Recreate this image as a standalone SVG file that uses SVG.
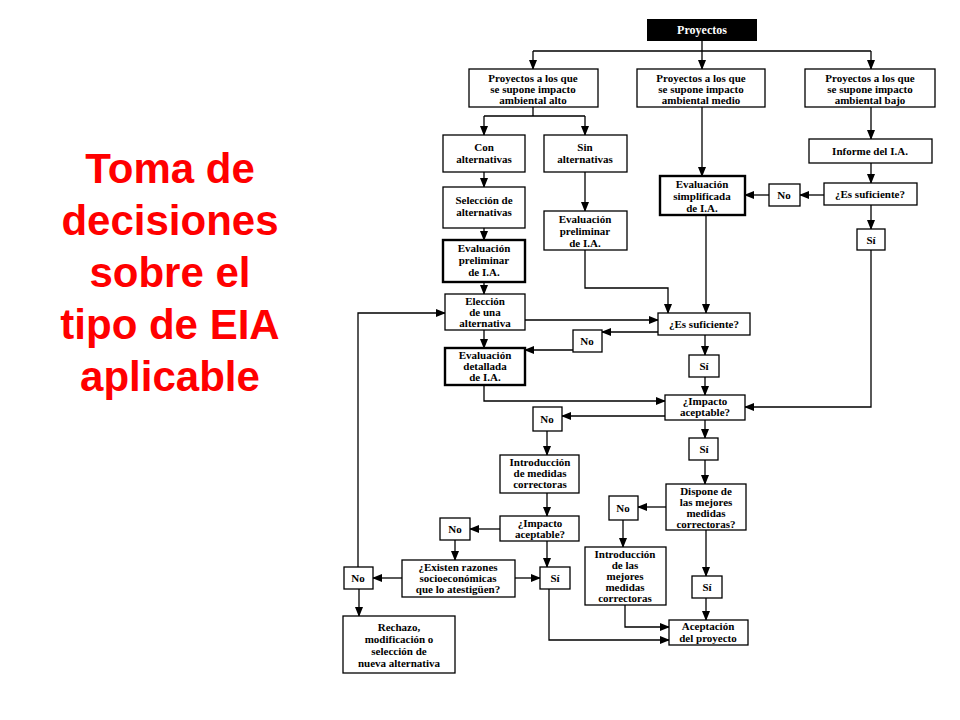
<svg xmlns="http://www.w3.org/2000/svg" width="960" height="720" viewBox="0 0 960 720">
<style>
.b{fill:#fff;stroke:#000;stroke-width:1.3}
.bb{fill:#fff;stroke:#000;stroke-width:2.4}
.t{font-family:"Liberation Serif",serif;font-weight:bold;font-size:11px;text-anchor:middle;fill:#000}
.c{fill:none;stroke:#000;stroke-width:1.3;marker-end:url(#a)}
.l{fill:none;stroke:#000;stroke-width:1.3}
.r{font-family:"Liberation Sans",Arial,sans-serif;font-weight:bold;font-size:42px;fill:#f00;text-anchor:middle}
</style>
<defs><marker id="a" markerWidth="10" markerHeight="10" refX="9" refY="5" orient="auto" markerUnits="userSpaceOnUse"><path d="M0,1 L10,5 L0,9 z" fill="#000"/></marker></defs>
<rect width="960" height="720" fill="#fff"/>
<g id="title"><text class="r" x="170" y="183">Toma de</text><text class="r" x="170" y="235">decisiones</text><text class="r" x="170" y="287">sobre el</text><text class="r" x="170" y="339">tipo de EIA</text><text class="r" x="170" y="391">aplicable</text></g>
<g id="connectors">
<path class="l" d="M702,41 V51 M533,51 H871"/>
<path class="c" d="M533,51 V69"/><path class="c" d="M702,51 V69"/><path class="c" d="M871,51 V69"/>
<path class="l" d="M533,107 V116 M484,116 H585"/>
<path class="c" d="M484,116 V135"/><path class="c" d="M585,116 V135"/>
<path class="c" d="M484,172 V187"/><path class="c" d="M484,228 V240"/><path class="c" d="M484,282 V294"/>
<path class="c" d="M585,172 V211"/>
<path class="c" d="M702,107 V176"/>
<path class="c" d="M871,107 V139"/><path class="c" d="M871,163 V183"/>
<path class="c" d="M824,195 H800"/><path class="c" d="M769,195 H745"/>
<path class="c" d="M871,205 V229"/>
<path class="c" d="M871,250 V407 H745"/>
<path class="c" d="M585,250 V288 H668 V313"/>
<path class="c" d="M706,215 V313"/>
<path class="c" d="M525,320 H658"/>
<path class="c" d="M658,332 H602"/><path class="c" d="M573,350 H525"/>
<path class="c" d="M484,330 V348"/>
<path class="c" d="M705,335 V355"/><path class="c" d="M705,377 V395"/>
<path class="c" d="M484,385 V401 H665"/>
<path class="c" d="M665,416 H562"/><path class="c" d="M547,431 V455"/>
<path class="c" d="M705,420 V438"/><path class="c" d="M705,460 V484"/>
<path class="c" d="M666,507 H638"/><path class="c" d="M623,520 V547"/>
<path class="c" d="M706,530 V576"/><path class="c" d="M706,598 V620"/>
<path class="c" d="M625,605 V627 H669"/>
<path class="c" d="M547,493 V516"/>
<path class="c" d="M500,529 H470"/><path class="c" d="M455,540 V560"/>
<path class="c" d="M547,541 V567"/>
<path class="c" d="M515,578 H540"/><path class="c" d="M402,578 H373"/>
<path class="c" d="M549,589 V640 H669"/>
<path class="c" d="M359,589 V616"/>
<path class="c" d="M358,567 V313 H445"/>
</g>
<g id="proyectos"><rect x="647" y="19" width="110" height="22" fill="#000"/><text class="t" x="702" y="34" style="fill:#fff;font-size:12px">Proyectos</text></g>
<g id="alto"><rect class="b" x="469" y="69" width="129" height="38"/><text class="t" x="533" y="82">Proyectos a los que</text><text class="t" x="533" y="93">se supone impacto</text><text class="t" x="533" y="104">ambiental alto</text></g>
<g id="medio"><rect class="b" x="637" y="69" width="128" height="38"/><text class="t" x="701" y="82">Proyectos a los que</text><text class="t" x="701" y="93">se supone impacto</text><text class="t" x="701" y="104">ambiental medio</text></g>
<g id="bajo"><rect class="b" x="805" y="69" width="130" height="38"/><text class="t" x="870" y="82">Proyectos a los que</text><text class="t" x="870" y="93">se supone impacto</text><text class="t" x="870" y="104">ambiental bajo</text></g>
<g id="con"><rect class="b" x="443" y="135" width="82" height="37"/><text class="t" x="484" y="151">Con</text><text class="t" x="484" y="163">alternativas</text></g>
<g id="sin"><rect class="b" x="544" y="135" width="83" height="37"/><text class="t" x="585" y="151">Sin</text><text class="t" x="585" y="163">alternativas</text></g>
<g id="seleccion"><rect class="b" x="443" y="187" width="82" height="41"/><text class="t" x="484" y="204">Selección de</text><text class="t" x="484" y="216">alternativas</text></g>
<g id="prelim1"><rect class="bb" x="443" y="240" width="82" height="42"/><text class="t" x="484" y="252">Evaluación</text><text class="t" x="484" y="264">preliminar</text><text class="t" x="484" y="276">de I.A.</text></g>
<g id="prelim2"><rect class="b" x="544" y="211" width="83" height="39"/><text class="t" x="585" y="223">Evaluación</text><text class="t" x="585" y="235">preliminar</text><text class="t" x="585" y="247">de I.A.</text></g>
<g id="simplificada"><rect class="bb" x="660" y="176" width="85" height="39"/><text class="t" x="702" y="188">Evaluación</text><text class="t" x="702" y="200">simplificada</text><text class="t" x="702" y="212">de I.A.</text></g>
<g id="informe"><rect class="b" x="809" y="139" width="123" height="24"/><text class="t" x="870" y="155">Informe del I.A.</text></g>
<g id="suf1"><rect class="b" x="824" y="183" width="93" height="22"/><text class="t" x="870" y="198">¿Es suficiente?</text></g>
<g id="no1"><rect class="b" x="769" y="184" width="31" height="22"/><text class="t" x="784" y="199">No</text></g>
<g id="si1"><rect class="b" x="857" y="229" width="28" height="21"/><text class="t" x="871" y="244">Sí</text></g>
<g id="eleccion"><rect class="b" x="445" y="294" width="80" height="36"/><text class="t" x="485" y="305">Elección</text><text class="t" x="485" y="316">de una</text><text class="t" x="485" y="327">alternativa</text></g>
<g id="suf2"><rect class="b" x="658" y="313" width="92" height="22"/><text class="t" x="704" y="328">¿Es suficiente?</text></g>
<g id="no2"><rect class="b" x="573" y="330" width="29" height="22"/><text class="t" x="587" y="345">No</text></g>
<g id="detallada"><rect class="bb" x="445" y="348" width="80" height="37"/><text class="t" x="485" y="359">Evaluación</text><text class="t" x="485" y="370">detallada</text><text class="t" x="485" y="381">de I.A.</text></g>
<g id="si2"><rect class="b" x="689" y="355" width="30" height="22"/><text class="t" x="704" y="370">Sí</text></g>
<g id="imp1"><rect class="b" x="665" y="395" width="80" height="25"/><text class="t" x="705" y="405">¿Impacto</text><text class="t" x="705" y="416">aceptable?</text></g>
<g id="no3"><rect class="b" x="533" y="407" width="29" height="24"/><text class="t" x="547" y="423">No</text></g>
<g id="si3"><rect class="b" x="689" y="438" width="29" height="22"/><text class="t" x="704" y="453">Sí</text></g>
<g id="intro1"><rect class="b" x="500" y="455" width="79" height="38"/><text class="t" x="540" y="466">Introducción</text><text class="t" x="540" y="477">de medidas</text><text class="t" x="540" y="488">correctoras</text></g>
<g id="dispone"><rect class="b" x="666" y="484" width="80" height="46"/><text class="t" x="706" y="495">Dispone de</text><text class="t" x="706" y="506">las mejores</text><text class="t" x="706" y="517">medidas</text><text class="t" x="706" y="528">correctoras?</text></g>
<g id="no4"><rect class="b" x="609" y="496" width="29" height="24"/><text class="t" x="623" y="512">No</text></g>
<g id="intro2"><rect class="b" x="585" y="547" width="81" height="58"/><text class="t" x="625" y="558">Introducción</text><text class="t" x="625" y="569">de las</text><text class="t" x="625" y="580">mejores</text><text class="t" x="625" y="591">medidas</text><text class="t" x="625" y="602">correctoras</text></g>
<g id="si4"><rect class="b" x="692" y="576" width="30" height="22"/><text class="t" x="707" y="591">Sí</text></g>
<g id="aceptacion"><rect class="b" x="669" y="620" width="79" height="25"/><text class="t" x="708" y="630">Aceptación</text><text class="t" x="708" y="642">del proyecto</text></g>
<g id="imp2"><rect class="b" x="500" y="516" width="79" height="25"/><text class="t" x="540" y="527">¿Impacto</text><text class="t" x="540" y="538">aceptable?</text></g>
<g id="no5"><rect class="b" x="440" y="518" width="30" height="22"/><text class="t" x="455" y="533">No</text></g>
<g id="existen"><rect class="b" x="402" y="560" width="113" height="37"/><text class="t" x="458" y="571">¿Existen razones</text><text class="t" x="458" y="582">socioeconómicas</text><text class="t" x="458" y="593">que lo atestigüen?</text></g>
<g id="no6"><rect class="b" x="344" y="567" width="29" height="22"/><text class="t" x="358" y="582">No</text></g>
<g id="si5"><rect class="b" x="540" y="567" width="30" height="22"/><text class="t" x="555" y="582">Sí</text></g>
<g id="rechazo"><rect class="b" x="343" y="616" width="112" height="57"/><text class="t" x="399" y="631">Rechazo,</text><text class="t" x="399" y="643">modificación o</text><text class="t" x="399" y="655">selección de</text><text class="t" x="399" y="667">nueva alternativa</text></g>
</svg>
